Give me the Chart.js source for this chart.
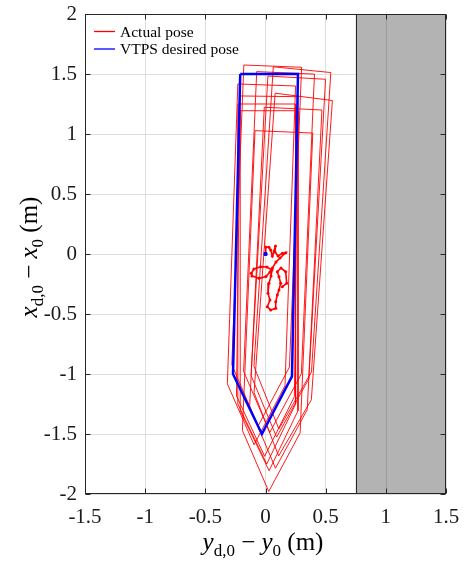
<!DOCTYPE html>
<html>
<head>
<meta charset="utf-8">
<script src="https://cdn.jsdelivr.net/npm/chart.js@4.4.1/dist/chart.umd.min.js"></script>
<style>
  html, body { margin: 0; padding: 0; background: #ffffff; }
  #wrap { width: 465px; height: 561px; }
</style>
</head>
<body>
<div id="wrap"><canvas id="c" width="465" height="561"></canvas></div>
<script>
// Axis ticks
const xTicks = [-1.5, -1, -0.5, 0, 0.5, 1, 1.5];
const yTicks = [-2, -1.5, -1, -0.5, 0, 0.5, 1, 1.5, 2];

// Shaded obstacle region (y_d,0 - y_0 range)
const wallRange = [0.75, 1.5];

// Desired pentagon path and its start point
const desiredLoop = [[-0.21, 1.5], [0.27, 1.5], [0.22, -1.02], [-0.03, -1.5], [-0.27, -1.0], [-0.21, 1.5]];
const desiredStart = [[0, 0]];

// Measured pose: initial wander near the origin
const actualStart = [
  [0.004, 0.0], [0.002, 0.058], [0.029, 0.056], [0.043, 0.033], [0.057, -0.017],
  [0.071, 0.025], [0.083, 0.067], [0.079, 0.017], [0.104, -0.017], [0.140, 0.006],
  [0.168, 0.011], [0.121, -0.033], [0.087, -0.067], [0.057, -0.117], [0.037, -0.150],
  [0.004, -0.188], [-0.054, -0.203], [-0.112, -0.183], [-0.118, -0.161], [-0.096, -0.125],
  [-0.040, -0.106], [0.012, -0.108], [0.054, -0.133], [0.046, -0.183], [0.029, -0.244],
  [0.021, -0.328], [0.037, -0.383], [0.015, -0.439], [0.043, -0.467], [0.085, -0.453],
  [0.085, -0.398], [0.098, -0.342], [0.112, -0.300], [0.126, -0.244], [0.112, -0.189],
  [0.098, -0.148], [0.129, -0.117], [0.168, -0.148], [0.176, -0.244], [0.140, -0.272]
];

// Measured pose: successive laps around the pentagon
const actualLoop1  = [[-0.18, 1.575], [0.30, 1.556], [0.199, -0.942], [-0.061, -1.432], [-0.28, -0.923], [-0.18, 1.575]];
const actualLoop2  = [[0.065, 1.56], [0.543, 1.512], [0.382, -0.983], [0.111, -1.458], [-0.096, -0.935], [0.065, 1.56]];
const actualLoop3  = [[-0.073, 1.52], [0.407, 1.499], [0.298, -0.999], [0.036, -1.487], [-0.182, -0.978], [-0.073, 1.52]];
const actualLoop4  = [[0.02, 1.483], [0.499, 1.456], [0.36, -1.04], [0.092, -1.526], [-0.12, -1.013], [0.02, 1.483]];
const actualLoop5  = [[-0.23, 1.417], [0.25, 1.40], [0.162, -1.098], [-0.095, -1.59], [-0.317, -1.082], [-0.23, 1.417]];
const actualLoop6  = [[0.08, 1.34], [0.556, 1.279], [0.381, -1.215], [0.109, -1.683], [-0.095, -1.154], [0.08, 1.34]];
const actualLoop7  = [[-0.21, 1.317], [0.27, 1.311], [0.24, -1.189], [-0.007, -1.686], [-0.241, -1.183], [-0.21, 1.317]];
const actualLoop8  = [[-0.23, 1.25], [0.25, 1.25], [0.25, -1.25], [0.01, -1.75], [-0.23, -1.25], [-0.23, 1.25]];
const actualLoop9  = [[-0.01, 1.223], [0.469, 1.20], [0.347, -1.297], [0.083, -1.785], [-0.132, -1.274], [-0.01, 1.223]];
const actualLoop10 = [[-0.21, 1.194], [0.27, 1.194], [0.27, -1.306], [0.03, -1.806], [-0.21, -1.306], [-0.21, 1.194]];
const actualLoop11 = [[-0.087, 1.028], [0.393, 1.008], [0.288, -1.49], [0.027, -1.979], [-0.192, -1.47], [-0.087, 1.028]];

const actualLoops = [actualLoop1, actualLoop2, actualLoop3, actualLoop4, actualLoop5, actualLoop6,
                     actualLoop7, actualLoop8, actualLoop9, actualLoop10, actualLoop11];

const legendItems = [
  { label: 'Actual pose', color: '#ff0000' },
  { label: 'VTPS desired pose', color: '#0000ff' }
];

const SERIF = '"Liberation Serif", "Times New Roman", serif';
const toXY = pts => pts.map(([x, y]) => ({ x, y }));

const datasets = [];
datasets.push({
  label: 'VTPS desired pose', data: toXY(desiredLoop), showLine: true,
  borderColor: '#0000ff', borderWidth: 2.5, pointRadius: 0, order: 0
});
datasets.push({
  label: 'desired start', data: toXY(desiredStart), showLine: false,
  backgroundColor: '#0000ff', borderColor: '#0000ff', pointStyle: 'rect', pointRadius: 2, order: 0
});
actualLoops.forEach((loop, i) => {
  datasets.push({
    label: 'Actual pose ' + (i + 1), data: toXY(loop), showLine: true,
    borderColor: 'rgba(255,0,0,0.9)', borderWidth: 1, pointRadius: 0, order: 1
  });
});
datasets.push({
  label: 'Actual pose start', data: toXY(actualStart), showLine: true,
  borderColor: '#ff0000', borderWidth: 1.6, pointRadius: 1.5,
  backgroundColor: '#ff0000', pointBorderWidth: 0, order: 1
});

// Draws a run of text pieces (italic / subscript) centred on (cx, baseline)
function drawRich(ctx, segs, cx, baseline, size, subSize, rotated) {
  const fontFor = s => (s.it ? 'italic ' : '') + (s.sub ? subSize : size) + 'px ' + SERIF;
  let total = 0;
  segs.forEach(s => { ctx.font = fontFor(s); s.w = ctx.measureText(s.t).width; total += s.w; });
  ctx.save();
  ctx.translate(cx, baseline);
  if (rotated) ctx.rotate(-Math.PI / 2);
  ctx.fillStyle = '#000000';
  ctx.textBaseline = 'alphabetic';
  ctx.textAlign = 'left';
  let x = -total / 2;
  segs.forEach(s => {
    ctx.font = fontFor(s);
    ctx.fillText(s.t, x, s.sub ? Math.round(size * 0.22) : 0);
    x += s.w;
  });
  ctx.restore();
}

const decorPlugin = {
  id: 'decor',
  beforeDatasetsDraw(chart) {
    const { ctx, chartArea: a, scales: { x } } = chart;
    const x0 = x.getPixelForValue(wallRange[0]);
    const x1 = x.getPixelForValue(wallRange[1]);
    ctx.save();
    ctx.fillStyle = '#b3b3b3';
    ctx.fillRect(x0, a.top, x1 - x0, a.bottom - a.top);
    ctx.strokeStyle = '#9c9c9c';
    ctx.lineWidth = 1;
    xTicks.filter(v => v > wallRange[0] && v < wallRange[1]).forEach(v => {
      const px = Math.round(x.getPixelForValue(v)) + 0.5;
      ctx.beginPath(); ctx.moveTo(px, a.top); ctx.lineTo(px, a.bottom); ctx.stroke();
    });
    ctx.strokeStyle = '#262626';
    const ex = Math.round(x0) + 0.5;
    ctx.beginPath(); ctx.moveTo(ex, a.top); ctx.lineTo(ex, a.bottom); ctx.stroke();
    ctx.restore();
  },
  afterDatasetsDraw(chart) {
    const { ctx } = chart;
    ctx.save();
    // legend
    legendItems.forEach((item, i) => {
      const y = 31.5 + i * 17.5;
      ctx.strokeStyle = item.color;
      ctx.lineWidth = 1.3;
      ctx.beginPath(); ctx.moveTo(94, y); ctx.lineTo(115, y); ctx.stroke();
      ctx.fillStyle = '#000000';
      ctx.font = '15.5px ' + SERIF;
      ctx.textBaseline = 'middle';
      ctx.textAlign = 'left';
      ctx.fillText(item.label, 120, y + 1);
    });
    ctx.restore();
  },
  afterDraw(chart) {
    const { ctx, chartArea: a, scales: { x, y } } = chart;
    ctx.save();
    ctx.strokeStyle = '#262626';
    ctx.lineWidth = 1;
    const L = Math.round(a.left) + 0.5, R = Math.round(a.right) - 0.5;
    const T = Math.round(a.top) + 0.5, B = Math.round(a.bottom) - 0.5;
    ctx.strokeRect(L, T, R - L, B - T);
    const tl = 5;
    ctx.beginPath();
    xTicks.forEach(v => {
      const px = Math.round(x.getPixelForValue(v)) + 0.5;
      ctx.moveTo(px, B); ctx.lineTo(px, B - tl);
      ctx.moveTo(px, T); ctx.lineTo(px, T + tl);
    });
    yTicks.forEach(v => {
      const py = Math.round(y.getPixelForValue(v)) + 0.5;
      ctx.moveTo(L, py); ctx.lineTo(L + tl, py);
      ctx.moveTo(R, py); ctx.lineTo(R - tl, py);
    });
    ctx.stroke();
    ctx.restore();

    // axis titles
    drawRich(ctx, [
      { t: 'y', it: true }, { t: 'd,0', sub: true }, { t: ' \u2212 ' },
      { t: 'y', it: true }, { t: '0', sub: true }, { t: ' (m)' }
    ], 263, 550, 25, 17, false);
    drawRich(ctx, [
      { t: 'x', it: true }, { t: 'd,0', sub: true }, { t: ' \u2212 ' },
      { t: 'x', it: true }, { t: '0', sub: true }, { t: ' (m)' }
    ], 37, 257, 25, 17, true);
  }
};

new Chart(document.getElementById('c'), {
  type: 'scatter',
  data: { datasets },
  options: {
    responsive: false,
    devicePixelRatio: 1,
    animation: false,
    layout: { padding: { left: 0, right: 19, top: 14, bottom: 0 } },
    plugins: { legend: { display: false }, tooltip: { enabled: false } },
    scales: {
      x: {
        type: 'linear', min: -1.5, max: 1.5,
        afterBuildTicks: s => { s.ticks = xTicks.map(v => ({ value: v })); },
        afterFit: s => { s.height = 67; s.paddingLeft = 0; s.paddingRight = 0; },
        ticks: {
          callback: v => String(v), color: '#1a1a1a', padding: 11, maxRotation: 0, autoSkip: false,
          font: { family: SERIF, size: 21 }
        },
        grid: { color: '#dedede', drawTicks: false, lineWidth: 1 },
        border: { display: false }
      },
      y: {
        type: 'linear', min: -2, max: 2,
        afterBuildTicks: s => { s.ticks = yTicks.map(v => ({ value: v })); },
        afterFit: s => { s.width = 85; s.paddingTop = 0; s.paddingBottom = 0; },
        ticks: {
          callback: v => String(v), color: '#1a1a1a', padding: 8, autoSkip: false,
          font: { family: SERIF, size: 21 }
        },
        grid: { color: '#dedede', drawTicks: false, lineWidth: 1 },
        border: { display: false }
      }
    }
  },
  plugins: [decorPlugin]
});
</script>
</body>
</html>
